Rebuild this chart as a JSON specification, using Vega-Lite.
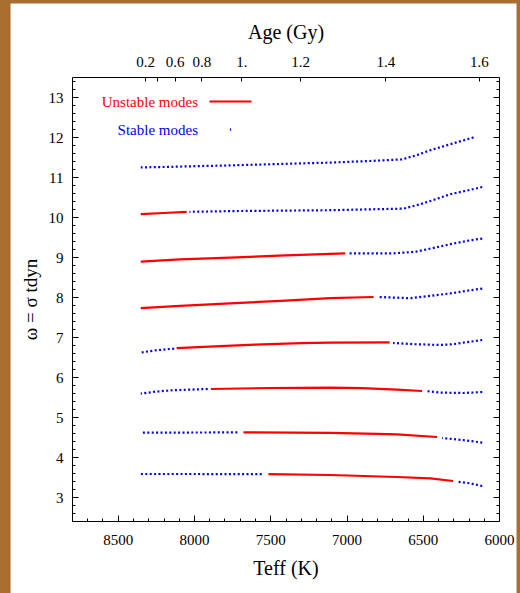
{
  "$schema": "https://vega.github.io/schema/vega-lite/v6.json",
  "autosize": "none",
  "width": 427,
  "height": 444,
  "padding": {"left": 72, "top": 77, "right": 21, "bottom": 72},
  "background": "#a86d2f",
  "data": {
    "values": [
      {"seg": "1s", "type": "Stable modes", "teff": 8349, "w": 11.24},
      {"seg": "1s", "type": "Stable modes", "teff": 8200, "w": 11.25},
      {"seg": "1s", "type": "Stable modes", "teff": 8000, "w": 11.27},
      {"seg": "1s", "type": "Stable modes", "teff": 7764, "w": 11.29},
      {"seg": "1s", "type": "Stable modes", "teff": 7400, "w": 11.33},
      {"seg": "1s", "type": "Stable modes", "teff": 7107, "w": 11.36},
      {"seg": "1s", "type": "Stable modes", "teff": 6850, "w": 11.4},
      {"seg": "1s", "type": "Stable modes", "teff": 6636, "w": 11.44},
      {"seg": "1s", "type": "Stable modes", "teff": 6537, "w": 11.55},
      {"seg": "1s", "type": "Stable modes", "teff": 6450, "w": 11.67},
      {"seg": "1s", "type": "Stable modes", "teff": 6319, "w": 11.82},
      {"seg": "1s", "type": "Stable modes", "teff": 6167, "w": 11.99},

      {"seg": "2u", "type": "Unstable modes", "teff": 8349, "w": 10.07},
      {"seg": "2u", "type": "Unstable modes", "teff": 8200, "w": 10.1},
      {"seg": "2u", "type": "Unstable modes", "teff": 8048, "w": 10.13},
      {"seg": "2s", "type": "Stable modes", "teff": 8030, "w": 10.13},
      {"seg": "2s", "type": "Stable modes", "teff": 7700, "w": 10.15},
      {"seg": "2s", "type": "Stable modes", "teff": 7107, "w": 10.17},
      {"seg": "2s", "type": "Stable modes", "teff": 6624, "w": 10.21},
      {"seg": "2s", "type": "Stable modes", "teff": 6515, "w": 10.32},
      {"seg": "2s", "type": "Stable modes", "teff": 6450, "w": 10.4},
      {"seg": "2s", "type": "Stable modes", "teff": 6319, "w": 10.57},
      {"seg": "2s", "type": "Stable modes", "teff": 6187, "w": 10.68},
      {"seg": "2s", "type": "Stable modes", "teff": 6110, "w": 10.75},

      {"seg": "3u", "type": "Unstable modes", "teff": 8349, "w": 8.885},
      {"seg": "3u", "type": "Unstable modes", "teff": 8092, "w": 8.94},
      {"seg": "3u", "type": "Unstable modes", "teff": 7764, "w": 8.985},
      {"seg": "3u", "type": "Unstable modes", "teff": 7400, "w": 9.04},
      {"seg": "3u", "type": "Unstable modes", "teff": 7107, "w": 9.08},
      {"seg": "3u", "type": "Unstable modes", "teff": 7008, "w": 9.09},
      {"seg": "3s", "type": "Stable modes", "teff": 6990, "w": 9.09},
      {"seg": "3s", "type": "Stable modes", "teff": 6700, "w": 9.09},
      {"seg": "3s", "type": "Stable modes", "teff": 6548, "w": 9.13},
      {"seg": "3s", "type": "Stable modes", "teff": 6450, "w": 9.21},
      {"seg": "3s", "type": "Stable modes", "teff": 6319, "w": 9.32},
      {"seg": "3s", "type": "Stable modes", "teff": 6187, "w": 9.42},
      {"seg": "3s", "type": "Stable modes", "teff": 6110, "w": 9.46},

      {"seg": "4u", "type": "Unstable modes", "teff": 8349, "w": 7.72},
      {"seg": "4u", "type": "Unstable modes", "teff": 8092, "w": 7.78},
      {"seg": "4u", "type": "Unstable modes", "teff": 7764, "w": 7.84},
      {"seg": "4u", "type": "Unstable modes", "teff": 7400, "w": 7.91},
      {"seg": "4u", "type": "Unstable modes", "teff": 7107, "w": 7.97},
      {"seg": "4u", "type": "Unstable modes", "teff": 6822, "w": 8.0},
      {"seg": "4s", "type": "Stable modes", "teff": 6790, "w": 8.0},
      {"seg": "4s", "type": "Stable modes", "teff": 6581, "w": 7.97},
      {"seg": "4s", "type": "Stable modes", "teff": 6450, "w": 8.03},
      {"seg": "4s", "type": "Stable modes", "teff": 6319, "w": 8.09},
      {"seg": "4s", "type": "Stable modes", "teff": 6187, "w": 8.17},
      {"seg": "4s", "type": "Stable modes", "teff": 6110, "w": 8.21},

      {"seg": "5s1", "type": "Stable modes", "teff": 8349, "w": 6.61},
      {"seg": "5s1", "type": "Stable modes", "teff": 8300, "w": 6.64},
      {"seg": "5s1", "type": "Stable modes", "teff": 8245, "w": 6.67},
      {"seg": "5s1", "type": "Stable modes", "teff": 8130, "w": 6.71},
      {"seg": "5u", "type": "Unstable modes", "teff": 8114, "w": 6.72},
      {"seg": "5u", "type": "Unstable modes", "teff": 7900, "w": 6.76},
      {"seg": "5u", "type": "Unstable modes", "teff": 7600, "w": 6.81},
      {"seg": "5u", "type": "Unstable modes", "teff": 7300, "w": 6.845},
      {"seg": "5u", "type": "Unstable modes", "teff": 7107, "w": 6.86},
      {"seg": "5u", "type": "Unstable modes", "teff": 6717, "w": 6.865},
      {"seg": "5s2", "type": "Stable modes", "teff": 6695, "w": 6.85},
      {"seg": "5s2", "type": "Stable modes", "teff": 6550, "w": 6.82},
      {"seg": "5s2", "type": "Stable modes", "teff": 6384, "w": 6.8},
      {"seg": "5s2", "type": "Stable modes", "teff": 6300, "w": 6.82},
      {"seg": "5s2", "type": "Stable modes", "teff": 6231, "w": 6.86},
      {"seg": "5s2", "type": "Stable modes", "teff": 6110, "w": 6.925},

      {"seg": "6s1", "type": "Stable modes", "teff": 8349, "w": 5.585},
      {"seg": "6s1", "type": "Stable modes", "teff": 8250, "w": 5.635},
      {"seg": "6s1", "type": "Stable modes", "teff": 8136, "w": 5.67},
      {"seg": "6s1", "type": "Stable modes", "teff": 7910, "w": 5.7},
      {"seg": "6u", "type": "Unstable modes", "teff": 7889, "w": 5.7},
      {"seg": "6u", "type": "Unstable modes", "teff": 7500, "w": 5.725},
      {"seg": "6u", "type": "Unstable modes", "teff": 7107, "w": 5.735},
      {"seg": "6u", "type": "Unstable modes", "teff": 6900, "w": 5.72},
      {"seg": "6u", "type": "Unstable modes", "teff": 6669, "w": 5.685},
      {"seg": "6u", "type": "Unstable modes", "teff": 6504, "w": 5.65},
      {"seg": "6s2", "type": "Stable modes", "teff": 6472, "w": 5.645},
      {"seg": "6s2", "type": "Stable modes", "teff": 6384, "w": 5.61},
      {"seg": "6s2", "type": "Stable modes", "teff": 6231, "w": 5.6},
      {"seg": "6s2", "type": "Stable modes", "teff": 6110, "w": 5.625},

      {"seg": "7s1", "type": "Stable modes", "teff": 8349, "w": 4.61},
      {"seg": "7s1", "type": "Stable modes", "teff": 8000, "w": 4.612},
      {"seg": "7s1", "type": "Stable modes", "teff": 7716, "w": 4.615},
      {"seg": "7u", "type": "Unstable modes", "teff": 7676, "w": 4.615},
      {"seg": "7u", "type": "Unstable modes", "teff": 7107, "w": 4.605},
      {"seg": "7u", "type": "Unstable modes", "teff": 6800, "w": 4.58},
      {"seg": "7u", "type": "Unstable modes", "teff": 6669, "w": 4.565},
      {"seg": "7u", "type": "Unstable modes", "teff": 6406, "w": 4.5},
      {"seg": "7s2", "type": "Stable modes", "teff": 6373, "w": 4.475},
      {"seg": "7s2", "type": "Stable modes", "teff": 6231, "w": 4.42},
      {"seg": "7s2", "type": "Stable modes", "teff": 6110, "w": 4.36},

      {"seg": "8s1", "type": "Stable modes", "teff": 8349, "w": 3.575},
      {"seg": "8s1", "type": "Stable modes", "teff": 8000, "w": 3.575},
      {"seg": "8s1", "type": "Stable modes", "teff": 7556, "w": 3.57},
      {"seg": "8u", "type": "Unstable modes", "teff": 7512, "w": 3.57},
      {"seg": "8u", "type": "Unstable modes", "teff": 7107, "w": 3.55},
      {"seg": "8u", "type": "Unstable modes", "teff": 6669, "w": 3.5},
      {"seg": "8u", "type": "Unstable modes", "teff": 6450, "w": 3.465},
      {"seg": "8u", "type": "Unstable modes", "teff": 6301, "w": 3.4},
      {"seg": "8s2", "type": "Stable modes", "teff": 6275, "w": 3.385},
      {"seg": "8s2", "type": "Stable modes", "teff": 6187, "w": 3.34},
      {"seg": "8s2", "type": "Stable modes", "teff": 6110, "w": 3.275}
    ]
  },
  "resolve": {"axis": {"x": "independent", "y": "independent"}},
  "layer": [
    {
      "data": {"values": [{"panel": "page"}]},
      "mark": {"type": "rect", "fill": "white", "clip": false},
      "encoding": {
        "x": {"datum": 9203, "type": "quantitative", "scale": {"domain": [6000, 8800], "reverse": true, "zero": false, "nice": false}, "axis": null},
        "x2": {"datum": 5885},
        "y": {"datum": 15.34, "type": "quantitative", "scale": {"domain": [2.4, 13.5], "zero": false, "nice": false}, "axis": null},
        "y2": {"datum": 0}
      }
    },
    {
      "transform": [{"filter": "datum.type === 'Unstable modes'"}],
      "mark": {"type": "line", "strokeWidth": 2.2, "clip": true},
      "encoding": {
        "x": {
          "field": "teff", "type": "quantitative",
          "scale": {"domain": [6000, 8800], "reverse": true, "zero": false, "nice": false},
          "axis": {
            "orient": "bottom",
            "zindex": 2,
            "tickCount": 200,
            "tickMinStep": 1,
            "values": [6000,6100,6200,6300,6400,6500,6600,6700,6800,6900,7000,7100,7200,7300,7400,7500,7600,7700,7800,7900,8000,8100,8200,8300,8400,8500,8600,8700,8800],
            "format": "d",
            "tickSize": {"condition": {"test": "datum.value % 500 === 0", "value": -6}, "value": -3},
            "labelExpr": "datum.value % 500 === 0 ? datum.label : ''",
            "labelPadding": 17,
            "title": "Teff (K)",
            "titlePadding": 8
          }
        },
        "y": {
          "field": "w", "type": "quantitative",
          "scale": {"domain": [2.4, 13.5], "zero": false, "nice": false},
          "axis": {
            "orient": "left",
            "zindex": 2,
            "tickCount": 200,
            "tickMinStep": 0.01,
            "values": [2.6,2.8,3,3.2,3.4,3.6,3.8,4,4.2,4.4,4.6,4.8,5,5.2,5.4,5.6,5.8,6,6.2,6.4,6.6,6.8,7,7.2,7.4,7.6,7.8,8,8.2,8.4,8.6,8.8,9,9.2,9.4,9.6,9.8,10,10.2,10.4,10.6,10.8,11,11.2,11.4,11.6,11.8,12,12.2,12.4,12.6,12.8,13,13.2,13.4],
            "format": "d",
            "tickSize": {"condition": {"test": "datum.value % 1 === 0", "value": -6}, "value": -3},
            "labelExpr": "datum.value % 1 === 0 ? datum.label : ''",
            "labelPadding": 15,
            "title": "ω = σ tdyn",
            "titleFontSize": 19,
            "titlePadding": 8
          }
        },
        "color": {
          "field": "type", "type": "nominal",
          "scale": {"domain": ["Unstable modes"], "range": ["#ff0000"]},
          "legend": {
            "orient": "none",
            "legendX": 21,
            "legendY": 2,
            "title": null,
            "padding": 0,
            "labelFont": "Liberation Serif",
            "labelFontSize": 15,
            "labelColor": "#ff0000",
            "labelAlign": "right",
            "labelOffset": -55,
            "symbolOffset": 115,
            "symbolType": "stroke",
            "symbolSize": 1764,
            "symbolStrokeWidth": 2.2
          }
        },
        "detail": {"field": "seg"},
        "order": {"field": "teff", "type": "quantitative"}
      }
    },
    {
      "transform": [{"filter": "datum.type === 'Stable modes'"}],
      "mark": {"type": "line", "strokeWidth": 2.2, "strokeDash": [2, 2.4], "strokeCap": "butt", "clip": true},
      "encoding": {
        "x": {
          "field": "teff", "type": "quantitative",
          "scale": {"domain": [6000, 8800], "reverse": true, "zero": false, "nice": false},
          "axis": {
            "orient": "top",
            "zindex": 2,
            "tickCount": 200,
            "tickMinStep": 1,
            "values": [8320, 8245, 8127, 7952, 7690, 7304, 6745, 6132],
            "tickSize": -4,
            "labelExpr": "datum.value == 8320 ? '0.2' : datum.value == 8127 ? '0.6' : datum.value == 7952 ? '0.8' : datum.value == 7690 ? '1.' : datum.value == 7304 ? '1.2' : datum.value == 6745 ? '1.4' : datum.value == 6132 ? '1.6' : ''",
            "labelPadding": 12,
            "title": "Age (Gy)",
            "titlePadding": 12
          }
        },
        "y": {
          "field": "w", "type": "quantitative",
          "scale": {"domain": [2.4, 13.5], "zero": false, "nice": false},
          "axis": {
            "orient": "right",
            "zindex": 2,
            "tickCount": 200,
            "tickMinStep": 0.01,
            "values": [2.6,2.8,3,3.2,3.4,3.6,3.8,4,4.2,4.4,4.6,4.8,5,5.2,5.4,5.6,5.8,6,6.2,6.4,6.6,6.8,7,7.2,7.4,7.6,7.8,8,8.2,8.4,8.6,8.8,9,9.2,9.4,9.6,9.8,10,10.2,10.4,10.6,10.8,11,11.2,11.4,11.6,11.8,12,12.2,12.4,12.6,12.8,13,13.2,13.4],
            "tickSize": {"condition": {"test": "datum.value % 1 === 0", "value": -6}, "value": -3},
            "labels": false,
            "title": null
          }
        },
        "stroke": {
          "field": "type", "type": "nominal",
          "scale": {"domain": ["Stable modes"], "range": ["#0000ff"]},
          "legend": {
            "orient": "none",
            "legendX": 21,
            "legendY": 30,
            "title": null,
            "padding": 0,
            "labelFont": "Liberation Serif",
            "labelFontSize": 15,
            "labelColor": "#0000ff",
            "labelAlign": "right",
            "labelOffset": -55,
            "symbolOffset": 115,
            "symbolType": "M-0.03,0L0.03,0",
            "symbolSize": 1764,
            "symbolStrokeWidth": 2.2,
            "symbolDash": []
          }
        },
        "detail": {"field": "seg"},
        "order": {"field": "teff", "type": "quantitative"}
      }
    }
  ],
  "config": {
    "view": {"stroke": null},
    "axis": {
      "grid": false,
      "zindex": 2,
      "domainColor": "#000000",
      "tickColor": "#000000",
      "labelColor": "#000000",
      "titleColor": "#000000",
      "labelFont": "Liberation Serif",
      "titleFont": "Liberation Serif",
      "labelFontSize": 15,
      "titleFontSize": 20,
      "titleFontWeight": "normal",
      "labelFlush": false,
      "labelOverlap": false,
      "labelBound": false
    }
  }
}
